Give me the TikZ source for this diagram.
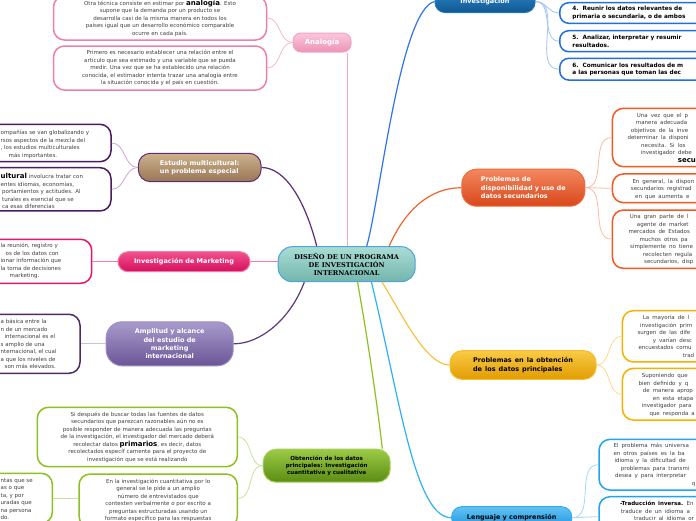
\documentclass[tikz,border=0pt]{standalone}
\usepackage{fontspec}
\setmainfont{DejaVu Sans}
\newfontfamily\titlefont{DejaVu Serif}

\definecolor{bodygray}{HTML}{404040}
\definecolor{centraltop}{HTML}{A9DDD6}
\definecolor{centralbot}{HTML}{72B5AC}
\definecolor{centralborder}{HTML}{4FA3D9}
\definecolor{anatop}{HTML}{F9C8DB}
\definecolor{anabot}{HTML}{EE93B7}
\definecolor{anaborder}{HTML}{F3A5C4}
\definecolor{analeaf}{HTML}{EF7FAA}
\definecolor{analine}{HTML}{F6B8D0}
\definecolor{esttop}{HTML}{CDB08C}
\definecolor{estbot}{HTML}{977755}
\definecolor{estborder}{HTML}{5E2B74}
\definecolor{estleaf}{HTML}{4B1B60}
\definecolor{estline}{HTML}{C7A6D6}
\definecolor{mkttop}{HTML}{F2508E}
\definecolor{mktbot}{HTML}{D40F5E}
\definecolor{mktborder}{HTML}{F27AA6}
\definecolor{mktleaf}{HTML}{E8146C}
\definecolor{mktline}{HTML}{F07CAB}
\definecolor{amptop}{HTML}{A79BCB}
\definecolor{ampbot}{HTML}{6B5597}
\definecolor{ampborder}{HTML}{9C8CC4}
\definecolor{ampleaf}{HTML}{4E2C62}
\definecolor{ampline}{HTML}{5B3A78}
\definecolor{amptwig}{HTML}{C9C2D8}
\definecolor{obttop}{HTML}{9BCB45}
\definecolor{obtbot}{HTML}{5C8C12}
\definecolor{obtborder}{HTML}{A6D158}
\definecolor{obtleaf}{HTML}{8DC021}
\definecolor{obttwig}{HTML}{C9E39A}
\definecolor{invtop}{HTML}{2F84C4}
\definecolor{invbot}{HTML}{0D5893}
\definecolor{invborder}{HTML}{2474B8}
\definecolor{invleaf}{HTML}{1F6FE0}
\definecolor{invline}{HTML}{2F74E8}
\definecolor{invtwig}{HTML}{A3C3F2}
\definecolor{disptop}{HTML}{F3875F}
\definecolor{dispbot}{HTML}{D9471A}
\definecolor{dispborder}{HTML}{F06A3C}
\definecolor{displeaf}{HTML}{F25A22}
\definecolor{displine}{HTML}{F0642F}
\definecolor{disptwig}{HTML}{F8BBA3}
\definecolor{printop}{HTML}{F9CB45}
\definecolor{prinbot}{HTML}{E29C02}
\definecolor{prinborder}{HTML}{F7BC2A}
\definecolor{prinleaf}{HTML}{F6B100}
\definecolor{prinline}{HTML}{F8C23E}
\definecolor{printwig}{HTML}{F9DA92}
\definecolor{lengtop}{HTML}{62C3F2}
\definecolor{lengbot}{HTML}{1B92E0}
\definecolor{lengborder}{HTML}{33ABF2}
\definecolor{lengleaf}{HTML}{22A3F2}
\definecolor{lengline}{HTML}{2FB0F3}
\definecolor{lengtwig}{HTML}{A2D9F8}

\newcommand{\lineat}[2]{\hspace*{#1pt}#2}
\newcommand{\keyword}[1]{{\color{black}\bfseries\fontsize{7}{7.5}\selectfont #1}}
\newcommand{\widespace}{\spaceskip=3pt\relax}

\tikzset{
  body/.style={font=\fontsize{5.5}{7.5}\selectfont, text=bodygray},
  leaf/.style={draw=#1, line width=1.5pt, fill=white, rounded corners=11pt, body},
  head/.style={line width=1pt, rounded corners=10pt, font=\bfseries\fontsize{6.5}{8.4}\selectfont},
  snip/.style={body, inner sep=0pt, anchor=north west, align=left},
  wide/.style={snip, font=\fontsize{5.5}{7.5}\selectfont\widespace},
  stepbox/.style={leaf=invleaf, anchor=west, text width=190pt, align=left, inner xsep=12.7pt, rounded corners=9pt, font=\bfseries\fontsize{5.8}{7.6}\selectfont\widespace, text=black},
  limb/.style={draw=#1, line width=1.2pt},
  twig/.style={draw=#1, line width=0.8pt}
}

\begin{document}
\begin{tikzpicture}[x=1pt, y=-1pt]
  \useasboundingbox[fill=white] (0,0) rectangle (696,520);

  \node[head, draw=centralborder, top color=centraltop, bottom color=centralbot, minimum width=137pt, minimum height=35pt, rounded corners=14pt, align=center, font=\titlefont\bfseries\fontsize{6.6}{8.2}\selectfont] (central) at (346.7,264.2) {DISEÑO DE UN PROGRAMA\\DE INVESTIGACIÓN\\INTERNACIONAL};

  \node[head, draw=anaborder, top color=anatop, bottom color=anabot, text=white, minimum width=58pt, minimum height=19pt, rounded corners=8pt, font=\bfseries\fontsize{7}{8}\selectfont] (ana) at (322,42.5) {Analogía};
  \node[leaf=analeaf, minimum width=213pt, minimum height=44pt, align=center] (ana1) at (160,18) {Otra técnica consiste en estimar por \keyword{analogía}. Esto\\supone que la demanda por un producto se\\desarrolla casi de la misma manera en todos los\\países igual que un desarrollo económico comparable\\ocurre en cada país.};
  \node[leaf=analeaf, minimum width=213pt, minimum height=44pt, align=center] (ana2) at (160,68) {Primero es necesario establecer una relación entre el\\artículo que sea estimado y una variable que se pueda\\medir. Una vez que se ha establecido una relación\\conocida, el estimador intenta trazar una analogía entre\\la situación conocida y el país en cuestión.};

  \node[head, draw=estborder, top color=esttop, bottom color=estbot, text=white, minimum width=122.7pt, minimum height=28.4pt, rounded corners=12pt, align=left] (est) at (199.7,167.5) {Estudio multicultural:\\un problema especial};
  \node[leaf=estleaf, minimum width=200pt, minimum height=37.4pt] (est1) at (11,143) {};
  \node[snip] (est1txt) at (0.5,130) {ompañías se van globalizando y\\rsos aspectos de la mezcla del\\, los estudios multiculturales\\\lineat{8}{más importantes.}};
  \node[leaf=estleaf, minimum width=200pt, minimum height=43.3pt] (est2) at (11,189.3) {};
  \node[snip] (est2txt) at (0.5,173) {\keyword{ultural} involucra tratar con\\entes idiomas, economías,\\\lineat{1.5}{portamientos y actitudes. Al}\\\lineat{1.5}{turales es esencial que se}\\\lineat{1.5}{ca esas diferencias}};

  \node[head, draw=mktborder, top color=mkttop, bottom color=mktbot, text=white, minimum width=132pt, minimum height=20pt] (mkt) at (184,261.7) {Investigación de Marketing};
  \node[leaf=mktleaf, minimum width=200pt, minimum height=44pt] (mkt1) at (-8.3,261.3) {};
  \node[snip] (mkt1txt) at (0.5,243.3) {la reunión, registro y\\\lineat{5}{os de los datos con}\\ionar información que\\la toma de decisiones\\\lineat{9}{marketing.}};

  \node[head, draw=ampborder, top color=amptop, bottom color=ampbot, text=white, minimum width=127pt, minimum height=44pt, rounded corners=16pt, align=center, font=\bfseries\fontsize{6.5}{8.3}\selectfont] (amp) at (169.7,343.8) {Amplitud y alcance\\del estudio de\\marketing\\internacional};
  \node[leaf=ampleaf, minimum width=200pt, minimum height=59pt] (amp1) at (-20,343.8) {};
  \node[snip] (amp1txt) at (0.5,319) {a básica entre la\\n de un mercado\\\lineat{4}{internacional es el}\\s amplio de una\\nternacional, el cual\\a que los niveles de\\\lineat{4}{son más elevados.}};

  \node[head, draw=obtborder, top color=obttop, bottom color=obtbot, minimum width=127pt, minimum height=33pt, rounded corners=13pt, align=center, font=\bfseries\fontsize{5.6}{7.3}\selectfont] (obt) at (326.7,465.7) {Obtención de los datos\\principales: Investigación\\cuantitativa y cualitativa};
  \node[leaf=obtleaf, minimum width=200pt, minimum height=59.4pt, align=center] (obt1) at (137.3,437) {Si después de buscar todas las fuentes de datos\\secundarios que parezcan razonables aún no es\\posible responder de manera adecuada las preguntas\\de la investigación, el investigador del mercado deberá\\recolectar datos \keyword{primarios}, es decir, datos\\recolectados específ camente para el proyecto de\\investigación que se está realizando};
  \node[leaf=obtleaf, minimum width=158.3pt, inner ysep=5pt, anchor=north, align=center] (obt2) at (158.2,473.3) {En la investigación cuantitativa por lo\\general se le pide a un amplio\\número de entrevistados que\\contesten verbalmente o por escrito a\\preguntas estructuradas usando un\\formato específico para las respuestas};
  \node[leaf=obtleaf, minimum width=200pt, minimum height=50pt] (obt3) at (-47.7,498.3) {};
  \node[snip] (obt3txt) at (0.5,478.3) {ntas que se\\as o que\\ta, y por\\uradas que\\na persona\\do.};

  \node[head, draw=invborder, top color=invtop, bottom color=invbot, text=white, minimum width=100pt, minimum height=22pt] (inv) at (485,1.5) {Investigación};
  \node[stepbox, minimum height=20.6pt] (inv4) at (559,13) {4.\ \ Reunir los datos relevantes de\\primaria o secundaria, o de ambos};
  \node[stepbox, minimum height=21pt] (inv5) at (559,41.2) {5.\ \ Analizar, interpretar y resumir\\resultados.};
  \node[stepbox, minimum height=21.7pt] (inv6) at (559,69.2) {6.\ \ Comunicar los resultados de m\\a las personas que toman las dec};

  \node[head, draw=dispborder, top color=disptop, bottom color=dispbot, text=white, minimum width=123pt, minimum height=37pt, rounded corners=15pt, align=left, font=\bfseries\fontsize{6.5}{8.7}\selectfont] (disp) at (523.3,187.7) {Problemas de\\disponibilidad y uso de\\datos secundarios};
  \node[leaf=displeaf, anchor=west, minimum width=200pt, minimum height=58.4pt] (disp1) at (611.7,137.5) {};
  \node[wide] (disp1txt) at (627.3,113) {\lineat{9.4}{Una vez que el p}\\\lineat{8.4}{manera adecuada}\\\lineat{3.4}{objetivos de la inve}\\determinar la disponi\\\lineat{13.7}{necesita. Si los}\\\lineat{13.4}{investigador debe}\\\lineat{50.4}{\keyword{secun}}};
  \node[leaf=displeaf, anchor=west, minimum width=200pt, minimum height=28.7pt] (disp2) at (611.7,188.3) {};
  \node[wide] (disp2txt) at (630.7,179) {\lineat{1.6}{En general, la dispon}\\secundarios registrad\\\lineat{4.3}{en que aumenta e}};
  \node[leaf=displeaf, anchor=west, minimum width=200pt, minimum height=58.3pt] (disp3) at (611.7,239.2) {};
  \node[wide] (disp3txt) at (628.3,214.6) {\lineat{1.4}{Una gran parte de l}\\\lineat{8.4}{agente de market}\\mercados de Estados\\\lineat{11}{muchos otros pa}\\\lineat{1.7}{simplemente no tiene}\\\lineat{14.4}{recolecten regula}\\\lineat{15.7}{secundarios, disp}};

  \node[head, draw=prinborder, top color=printop, bottom color=prinbot, minimum width=146pt, minimum height=28.6pt, rounded corners=12pt, align=left, font=\bfseries\fontsize{6.5}{8.4}\selectfont\widespace] (prin) at (523,365) {Problemas en la obtención\\de los datos principales};
  \node[leaf=prinleaf, anchor=west, minimum width=200pt, minimum height=51.3pt] (prin1) at (621.7,336.3) {};
  \node[wide] (prin1txt) at (637.3,315) {\lineat{5.4}{La mayoría de l}\\\lineat{2.7}{investigación prim}\\surgen de las dife\\\lineat{15.4}{y varían desc}\\\lineat{1}{encuestados comu}\\\lineat{45.4}{trad}};
  \node[leaf=prinleaf, anchor=west, minimum width=200pt, minimum height=51.7pt] (prin2) at (621.7,394.2) {};
  \node[wide] (prin2txt) at (638.3,373.3) {\lineat{3.4}{Suponiendo que}\\bien definido y q\\\lineat{4.4}{de manera aprop}\\\lineat{14.4}{en esta etapa}\\\lineat{3.4}{investigador para}\\\lineat{11}{que responda a}};

  \node[head, draw=lengborder, top color=lengtop, bottom color=lengbot, minimum width=120pt, minimum height=22pt] (leng) at (511.7,517.7) {Lenguaje y comprensión};
  \node[leaf=lengleaf, anchor=west, minimum width=200pt, minimum height=50.7pt] (leng1) at (598.3,464.7) {};
  \node[wide] (leng1txt) at (613.3,443) {El problema más universa\\en otros países es la ba\\\lineat{1}{idioma y la dificultad de}\\\lineat{7.4}{problemas para transmi}\\\lineat{1.7}{desea y para interpretar}\\\lineat{78.4}{q}};
  \node[leaf=lengleaf, anchor=west, minimum width=200pt, minimum height=40pt] (leng2) at (598.3,516.7) {};
  \node[wide] (leng2txt) at (620,501.3) {{\color{black}\bfseries -Traducción inversa.} En\\\lineat{0.7}{traduce de un idioma a}\\\lineat{14}{traducir al idioma or}};

  \draw[limb=anaborder] (central.87) -- (central.87 |- ana.south);
  \draw[twig=analine] (ana.west) to[out=180,in=0] (ana1.east);
  \draw[twig=analine] (ana.west) to[out=180,in=0] (ana2.east);

  \draw[limb=estborder] (central.149) .. controls (305,200) and (285,167.5) .. (est.east);
  \draw[twig=estline] (est.west) to[out=180,in=0] (est1.east);
  \draw[twig=estline] (est.west) to[out=180,in=0] (est2.east);

  \draw[limb=mktline] (mkt.east) -- (mkt.east -| central.west);
  \draw[twig=mktline] (mkt.west) -- (mkt.west -| mkt1.east);

  \draw[limb=ampline] (central.203) .. controls (290,320) and (260,343.8) .. (amp.east);
  \draw[twig=amptwig] (amp.west) -- (amp1.east);

  \draw[limb=obtleaf] (central.-59) .. controls (368,340) and (378,410) .. (obt.17);
  \draw[twig=obttwig] (obt.west) to[out=180,in=0] (obt1.east);
  \draw[twig=obttwig] (obt.west) to[out=180,in=0] (obt2.east |- obt3.east);
  \draw[twig=obttwig] (obt3.east) -- (obt3.east -| obt2.west);

  \draw[limb=invline] (central.42) .. controls (380,200) and (400,10) .. (inv.west);
  \draw[twig=invtwig] (inv.east) to[out=0,in=180] (inv4.west);
  \draw[twig=invtwig] (inv.east) to[out=0,in=180] (inv5.west);
  \draw[twig=invtwig] (inv.east) to[out=0,in=180] (inv6.west);

  \draw[limb=displine] (central.23) .. controls (405,210) and (430,187.7) .. (disp.west);
  \draw[twig=disptwig] (disp.east) to[out=0,in=180] (disp1.west);
  \draw[twig=disptwig] (disp.east) to[out=0,in=180] (disp2.west);
  \draw[twig=disptwig] (disp.east) to[out=0,in=180] (disp3.west);

  \draw[limb=prinline] (central.-27) .. controls (400,310) and (425,365) .. (prin.west);
  \draw[twig=printwig] (prin.east) to[out=0,in=180] (prin1.west);
  \draw[twig=printwig] (prin.east) to[out=0,in=180] (prin2.west);

  \draw[limb=lengline] (central.-36) .. controls (400,400) and (415,517.7) .. (leng.west);
  \draw[twig=lengtwig] (leng.east) to[out=0,in=180] (leng1.west);
  \draw[twig=lengtwig] (leng.east) to[out=0,in=180] (leng2.west);
\end{tikzpicture}
\end{document}
